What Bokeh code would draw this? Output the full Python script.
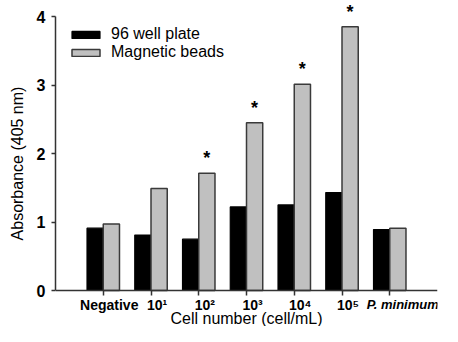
from bokeh.plotting import figure
from bokeh.models import ColumnDataSource, FactorRange, Range1d, Label, Legend, LegendItem
from bokeh.transform import dodge
from bokeh.embed import file_html
from bokeh.resources import INLINE

categories = ["Negative", "10¹", "10²", "10³", "10⁴", "10⁵", "P. minimum"]
well_plate = [0.91, 0.81, 0.75, 1.22, 1.25, 1.43, 0.89]
magnetic_beads = [0.97, 1.49, 1.71, 2.45, 3.01, 3.85, 0.91]
significant = [False, False, True, True, True, True, False]
y_ticks = [0, 1, 2, 3, 4]
italic_categories = ["P. minimum"]
x_title = "Cell number (cell/mL)"
y_title = "Absorbance (405 nm)"

FONT = "Liberation Sans"
DODGE = 0.17

src = ColumnDataSource(dict(cat=categories, wp=well_plate, mb=magnetic_beads))

# the frame reaches the canvas edges so that the texts below the axis are not clipped;
# the axes are drawn at y = 0 and bounded to the 0..4 data span
p = figure(width=442, height=326,
           x_range=FactorRange(*categories, range_padding=0.5, range_padding_units="absolute"),
           y_range=Range1d(-0.5255, 4.2336), output_backend="svg", toolbar_location=None,
           min_border_left=55, min_border_right=5, min_border_top=0, min_border_bottom=0)
p.outline_line_color = None
p.xgrid.grid_line_color = None
p.ygrid.grid_line_color = None
p.background_fill_color = "white"

r1 = p.vbar(x=dodge("cat", -DODGE, range=p.x_range), top="wp", width=0.34, source=src,
            fill_color="black", line_color="black", line_width=1.2)
r2 = p.vbar(x=dodge("cat", DODGE, range=p.x_range), top="mb", width=0.34, source=src,
            fill_color="#c0c0c0", line_color="#3a3a3a", line_width=1.5)

legend = Legend(items=[LegendItem(label="96 well plate", renderers=[r1]),
                       LegendItem(label="Magnetic beads", renderers=[r2])],
                location=(13, 265), padding=0, margin=0, spacing=0,
                glyph_width=35, glyph_height=9, label_height=18, label_standoff=8,
                label_text_font=FONT, label_text_font_size="16px", label_text_color="black",
                border_line_color=None, background_fill_alpha=0)
p.add_layout(legend, "center")

# x axis (category labels drawn separately below)
p.xaxis.fixed_location = 0
p.xaxis.axis_line_color = "#333333"
p.xaxis.axis_line_width = 1.5
p.xaxis.major_tick_line_color = "#333333"
p.xaxis.major_tick_line_width = 1.5
p.xaxis.major_tick_out = 5
p.xaxis.major_tick_in = 0
p.xaxis.minor_tick_line_color = None
p.xaxis.major_label_text_color = None

# y axis
p.yaxis.ticker = y_ticks
p.yaxis.bounds = (y_ticks[0], y_ticks[-1])
p.yaxis.axis_line_color = "#333333"
p.yaxis.axis_line_width = 1.5
p.yaxis.major_tick_line_color = "#333333"
p.yaxis.major_tick_line_width = 1.5
p.yaxis.major_tick_out = 4
p.yaxis.major_tick_in = 0
p.yaxis.minor_tick_line_color = None
p.yaxis.major_label_text_font = FONT
p.yaxis.major_label_text_font_size = "16px"
p.yaxis.major_label_text_font_style = "bold"
p.yaxis.major_label_text_color = "black"
p.yaxis.major_label_standoff = 6
p.yaxis.axis_label = y_title
p.yaxis.axis_label_text_font = FONT
p.yaxis.axis_label_text_font_size = "16px"
p.yaxis.axis_label_text_font_style = "normal"
p.yaxis.axis_label_text_color = "black"
p.yaxis.axis_label_standoff = 8

# category labels (synthetic coordinate of factor i is i + 0.5)
for i, c in enumerate(categories):
    ital = c in italic_categories
    p.add_layout(Label(x=i + 0.5, y=0, text=c, x_offset=13 if ital else 6, y_offset=-14,
                       text_align="center", text_baseline="middle", text_font=FONT,
                       text_font_size="13px" if ital else "14px",
                       text_font_style="bold italic" if ital else "bold",
                       text_color="black"))

# x axis title, centred on the middle category
p.add_layout(Label(x=len(categories) / 2, y=0, text=x_title, y_offset=-28,
                   text_align="center", text_baseline="middle", text_font=FONT,
                   text_font_size="16px", text_color="black"))

# significance stars above the magnetic-bead bars
for i, (m, s) in enumerate(zip(magnetic_beads, significant)):
    if s:
        p.add_layout(Label(x=i + 0.5 + DODGE, y=m, text="*", y_offset=15,
                           text_align="center", text_baseline="middle", text_font=FONT,
                           text_font_size="18px", text_font_style="bold", text_color="black"))

open("out.html", "w").write(file_html(p, INLINE))
